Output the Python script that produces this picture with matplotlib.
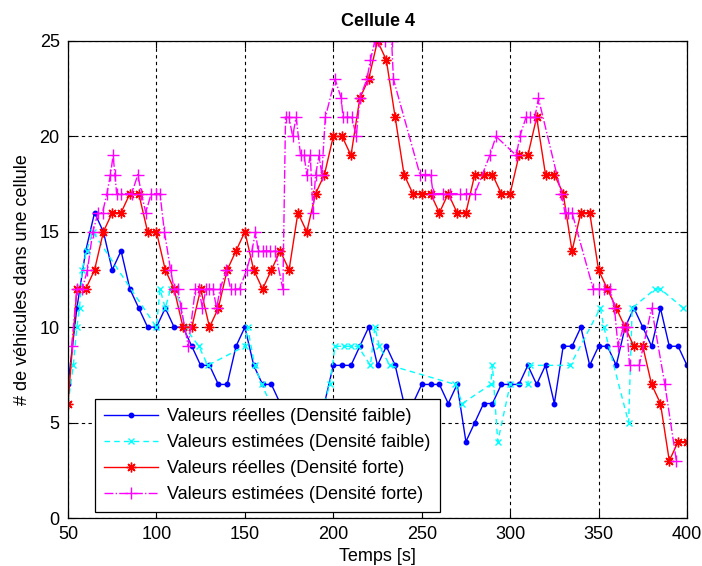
import numpy as np
import matplotlib
matplotlib.use("Agg")
import matplotlib.pyplot as plt

plt.rcParams['font.family'] = ['Liberation Sans', 'DejaVu Sans']

# time grid of the measured series (one sample every 5 s)
temps = np.arange(50, 401, 5)

reel_faible = [7, 11, 14, 16, 15, 13, 14, 12, 11, 10, 10, 11, 10, 10, 9, 8, 8, 7, 7, 9,
               10, 8, 7, 7, 6, 6, 6, 6, 6, 6, 8, 8, 8, 9, 10, 8, 9, 8, 6, 6,
               7, 7, 7, 6, 7, 4, 5, 6, 6, 7, 7, 7, 8, 7, 8, 6, 9, 9, 10, 8,
               9, 9, 8, 10, 11, 10, 9, 11, 9, 9, 8]

reel_forte = [6, 12, 12, 13, 15, 16, 16, 17, 17, 15, 15, 13, 12, 10, 10, 12, 10, 11, 13, 14,
              15, 13, 12, 13, 14, 13, 16, 15, 17, 18, 20, 20, 19, 22, 23, 25, 24, 21, 18, 17,
              17, 17, 16, 17, 16, 16, 18, 18, 18, 17, 17, 19, 19, 21, 18, 18, 17, 14, 16, 16,
              13, 12, 11, 10, 9, 9, 7, 6, 3, 4, 4]

# estimated series come at irregular instants
t_est_faible = [50, 53, 55, 56.5, 58, 60.5, 64, 100, 102, 105, 108, 111, 116, 124, 129,
                150, 151.5, 155.5, 159.5, 164.5, 195, 198, 201, 206, 210, 214, 221, 223.5,
                226, 232, 269, 273, 289, 290, 293, 300, 310, 311, 334, 351, 353, 367, 369,
                382, 385, 398]
est_faible = [6, 8, 10, 11, 13, 14, 15, 10, 12, 11, 12, 12, 10, 9, 8,
              9, 10, 8, 7, 6, 6, 7, 9, 9, 9, 9, 8, 10,
              9, 8, 7, 6, 7, 8, 4, 7, 7, 8, 8, 11, 10, 5, 11,
              12, 12, 11]

t_est_forte = [52, 55, 58, 61, 64, 67, 69.5, 72, 74, 75.5, 76.5, 77.5, 80, 86, 89.5, 91.5,
               94, 97, 99.5, 102, 104.5, 108, 110, 112, 114, 118, 122, 124, 126, 128, 130,
               132, 134, 136, 139.5, 142, 144.5, 147, 151, 154, 156, 157.5, 160, 162, 164,
               167, 171.5, 173, 175, 177, 179, 181.5, 183.5, 185, 187, 188.5, 190, 192,
               193.5, 195.5, 201, 204.5, 205.5, 208, 210.5, 213, 215, 219, 221, 223.5, 226,
               229, 233, 234, 249, 252, 255, 256.5, 262, 266, 271.5, 275, 280, 288.5, 292,
               303.5, 305.5, 309, 311.5, 314, 316, 329, 331, 333, 335, 347, 350, 353, 356.5,
               359, 361, 364, 366, 367.5, 373, 380, 387.5, 394]
est_forte = [9, 12, 12, 13, 15, 16, 16, 17, 18, 19, 18, 17, 17, 17, 18, 17,
             16, 17, 17, 17, 15, 13, 12, 12, 11, 9, 12, 12, 11, 12, 12,
             12, 11, 12, 13, 12, 12, 12, 13, 14, 15, 14, 14, 14, 14,
             14, 12, 21, 21, 20, 21, 19, 19, 18, 19, 16, 18, 19,
             18, 21, 23, 22, 21, 21, 21, 20, 22, 23, 24, 25, 25,
             25, 25, 23, 18, 18, 18, 17, 17, 17, 17, 17, 17, 19, 20,
             19, 20, 21, 21, 21, 22, 17, 16, 16, 16, 12, 12, 12, 12,
             11, 9, 10, 10, 8, 8, 11, 7, 3]

legendes = ['Valeurs réelles (Densité faible)',
            'Valeurs estimées (Densité faible)',
            'Valeurs réelles (Densité forte)',
            'Valeurs estimées (Densité forte)']

fig = plt.figure(figsize=(7.02, 5.66), dpi=100)
ax = fig.add_axes([0.0969, 0.0848, 0.8817, 0.8428])

ax.plot(temps, reel_faible, color='#0000ff', lw=1.0, marker='o', ms=3.2,
        label=legendes[0])
ax.plot(t_est_faible, est_faible, color='#00ffff', lw=1.0, ls='--', dashes=(4, 3),
        marker='x', ms=5, mew=1.0, label=legendes[1])
ax.plot(temps, reel_forte, color='#ff0000', lw=1.0, marker=(8, 2, 0), ms=7, mew=1.0,
        label=legendes[2])
ax.plot(t_est_forte, est_forte, color='#ff00ff', lw=1.0, ls='-.', marker='+', ms=9,
        mew=1.0, label=legendes[3])

ax.set_xlim(50, 400)
ax.set_ylim(0, 25)
ax.set_xticks([50, 100, 150, 200, 250, 300, 350, 400])
ax.set_yticks([0, 5, 10, 15, 20, 25])
ax.grid(True, color='k', ls=(0, (3, 3)), lw=0.8)
ax.tick_params(direction='in', top=True, right=True, labelsize=13, length=5,
               width=0.8, pad=6)
for s in ax.spines.values():
    s.set_linewidth(0.9)

ax.set_title('Cellule 4', fontsize=13, fontweight='bold', pad=11)
ax.set_xlabel('Temps [s]', fontsize=13, labelpad=3)
ax.set_ylabel('# de véhicules dans une cellule', fontsize=13, labelpad=6)

leg = ax.legend(loc='lower left', bbox_to_anchor=(0.044, 0.012), fontsize=13,
                frameon=True, fancybox=False, framealpha=1, edgecolor='k',
                handlelength=3.0, labelspacing=0.5, borderpad=0.5,
                handletextpad=0.5, borderaxespad=0)
frame = leg.get_frame()
frame.set_linewidth(0.9)

# widen the legend box a little to the right of the text
fig.canvas.draw()
bb = frame.get_bbox()
frame.set_bounds(bb.x0, bb.y0, bb.width + 14, bb.height)

fig.savefig('out.png', dpi=100)
